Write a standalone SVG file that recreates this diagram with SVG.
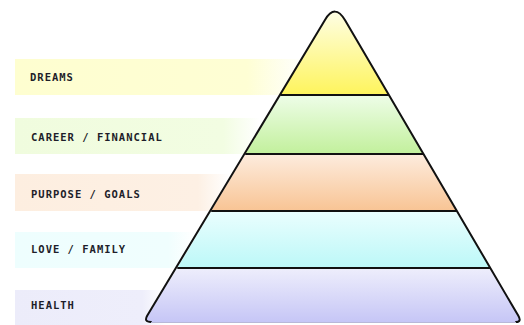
<svg xmlns="http://www.w3.org/2000/svg" width="524" height="325" viewBox="0 0 524 325">
<defs>
<style>
.lbl{font-family:"DejaVu Sans Mono","Liberation Mono",monospace;font-size:10.5px;font-weight:bold;letter-spacing:1px;fill:#1e1e2a;}
.div{stroke:#111;stroke-width:2;fill:none;}
.edge{stroke:#111;stroke-width:2;fill:none;stroke-linejoin:round;stroke-linecap:round;}
</style>
<linearGradient id="bY" x1="0" x2="1" y1="0" y2="0"><stop offset="0" stop-color="#fefed0"/><stop offset="0.8" stop-color="#fefed4"/><stop offset="1" stop-color="#ffffff"/></linearGradient>
<linearGradient id="bG" x1="0" x2="1" y1="0" y2="0"><stop offset="0" stop-color="#f0fcde"/><stop offset="0.85" stop-color="#f2fde2"/><stop offset="1" stop-color="#ffffff"/></linearGradient>
<linearGradient id="bO" x1="0" x2="1" y1="0" y2="0"><stop offset="0" stop-color="#fdeee0"/><stop offset="0.85" stop-color="#fdf0e4"/><stop offset="1" stop-color="#ffffff"/></linearGradient>
<linearGradient id="bC" x1="0" x2="1" y1="0" y2="0"><stop offset="0" stop-color="#eefefe"/><stop offset="0.85" stop-color="#f0fefe"/><stop offset="1" stop-color="#ffffff"/></linearGradient>
<linearGradient id="bL" x1="0" x2="1" y1="0" y2="0"><stop offset="0" stop-color="#ececfa"/><stop offset="0.85" stop-color="#eeeefb"/><stop offset="1" stop-color="#ffffff"/></linearGradient>
<linearGradient id="pY" x1="0" x2="0" y1="0" y2="1"><stop offset="0" stop-color="#fefee4"/><stop offset="1" stop-color="#fef45c"/></linearGradient>
<linearGradient id="pG" x1="0" x2="0" y1="0" y2="1"><stop offset="0" stop-color="#eefde8"/><stop offset="1" stop-color="#c2f09c"/></linearGradient>
<linearGradient id="pO" x1="0" x2="0" y1="0" y2="1"><stop offset="0" stop-color="#fdecde"/><stop offset="1" stop-color="#f8c494"/></linearGradient>
<linearGradient id="pC" x1="0" x2="0" y1="0" y2="1"><stop offset="0" stop-color="#eafefe"/><stop offset="1" stop-color="#bcf8f8"/></linearGradient>
<linearGradient id="pL" x1="0" x2="0" y1="0" y2="1"><stop offset="0" stop-color="#eeeefc"/><stop offset="1" stop-color="#c6c6f6"/></linearGradient>
</defs>
<rect width="524" height="325" fill="#ffffff"/>
<g id="label-dreams">
<rect x="15" y="59" width="290" height="36" fill="url(#bY)"/>
<text class="lbl" x="30" y="81">DREAMS</text>
</g>
<g id="label-career">
<rect x="15" y="118" width="245" height="36" fill="url(#bG)"/>
<text class="lbl" x="31" y="141">CAREER / FINANCIAL</text>
</g>
<g id="label-purpose">
<rect x="15" y="174" width="215" height="37" fill="url(#bO)"/>
<text class="lbl" x="31" y="198">PURPOSE / GOALS</text>
</g>
<g id="label-love">
<rect x="15" y="232" width="180" height="36" fill="url(#bC)"/>
<text class="lbl" x="31" y="253">LOVE / FAMILY</text>
</g>
<g id="label-health">
<rect x="15" y="290" width="150" height="35" fill="url(#bL)"/>
<text class="lbl" x="31" y="309">HEALTH</text>
</g>
<g id="pyramid">
<g id="tier-dreams"><path d="M324.8,20.2 Q335,3 345.1,20.3 L388.9,95 L280.3,95 Z" fill="url(#pY)"/></g>
<g id="tier-career"><path d="M280.3,95 L388.9,95 L423.5,154 L245.2,154 Z" fill="url(#pG)"/></g>
<g id="tier-purpose"><path d="M245.2,154 L423.5,154 L456.9,211 L211.2,211 Z" fill="url(#pO)"/></g>
<g id="tier-love"><path d="M211.2,211 L456.9,211 L490.3,268 L177.3,268 Z" fill="url(#pC)"/></g>
<g id="tier-health"><path d="M177.3,268 L490.3,268 L518.2,315.6 Q522,322 516,322 L151,322 Q143.5,322 147.3,315.5 Z" fill="url(#pL)"/></g>
</g>
<g id="connectors">
<line class="div" x1="280.3" y1="95" x2="388.9" y2="95"/>
<line class="div" x1="245.2" y1="154" x2="423.5" y2="154"/>
<line class="div" x1="211.2" y1="211" x2="456.9" y2="211"/>
<line class="div" x1="177.3" y1="268" x2="490.3" y2="268"/>
<path class="edge" d="M151,322 Q143.5,322 147.3,315.5 L324.8,20.2 Q335,3 345.1,20.3 L518.2,315.6 Q522,322 516,322"/>
<line x1="151" y1="322.5" x2="516" y2="322.5" stroke="#b8b8d8" stroke-width="1"/>
</g>
</svg>
